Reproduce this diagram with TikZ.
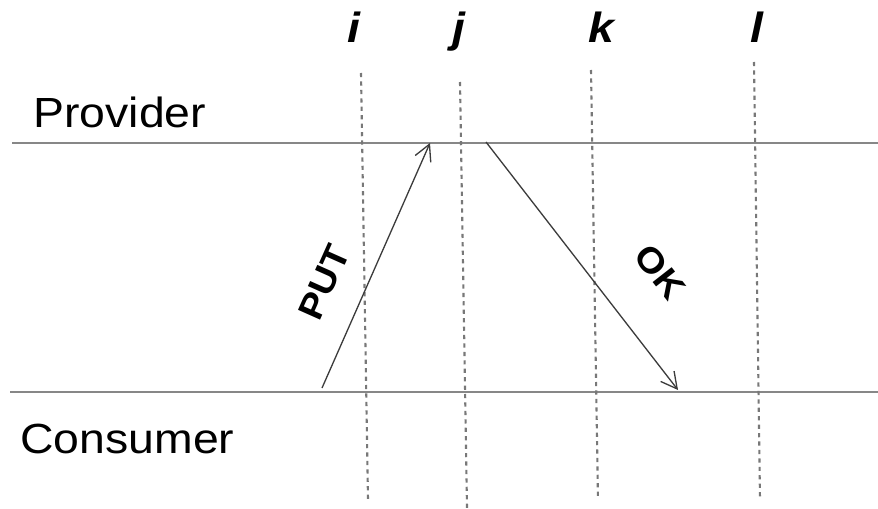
\documentclass[tikz,border=0pt]{standalone}
\usepackage{fontspec}
\setmainfont{Liberation Sans}
\newfontfamily\widefont[FakeStretch=1.1]{Liberation Sans}
\usetikzlibrary{arrows.meta,positioning}
\definecolor{rail}{RGB}{135,135,135}
\definecolor{tick}{RGB}{120,120,120}
\definecolor{msg}{RGB}{60,60,60}
\tikzset{
  party/.style={font=\widefont\fontsize{24}{28}\selectfont,inner sep=0pt,anchor=base west},
  cut/.style={font=\widefont\bfseries\itshape\fontsize{24}{28}\selectfont,inner sep=0pt,anchor=base},
  msglabel/.style={font=\widefont\bfseries\fontsize{20}{24}\selectfont,inner sep=0pt},
  lane/.style={draw=rail,line width=1.2pt},
  cutline/.style={draw=tick,line width=1.2pt,dash pattern=on 2.4pt off 2.4pt},
  flow/.style={-{Straight Barb[length=3.2mm,width=3.4mm]},msg,line width=0.75pt},
}
\begin{document}
\begin{tikzpicture}[x=0.02cm,y=0.02cm]
\useasboundingbox (0,0) rectangle (878,508);
% parties
\node[party] (prov) at (33,381) {Provider};
\node[party] (cons) at (20,55) {Consumer};
\coordinate (pl) at (12,365);  \coordinate (pr) at (878,365);
\coordinate (cl) at (10,116);  \coordinate (cr) at (878,116);
\draw[lane] (pl) -- (pr);
\draw[lane] (cl) -- (cr);
% cuts
\node[cut] (ci) at (354,465) {i};
\node[cut] (cj) at (459,465) {j};
\node[cut] (ck) at (601,465) {k};
\node[cut] (cl2) at (757,465) {l};
\coordinate (it) at (361,435); \coordinate (ib) at (368,8);
\coordinate (jt) at (460,426); \coordinate (jb) at (467,0);
\coordinate (kt) at (591,438); \coordinate (kb) at (598,8);
\coordinate (lt) at (754,446); \coordinate (lb) at (760,8);
\draw[cutline] (it) -- (ib);
\draw[cutline] (jt) -- (jb);
\draw[cutline] (kt) -- (kb);
\draw[cutline] (lt) -- (lb);
% messages
\coordinate (put0) at (322,120); \coordinate (put1) at (430,365);
\coordinate (ok0) at (486,366);  \coordinate (ok1) at (678,118);
\draw[flow] (put0) -- (put1);
\draw[flow] (ok0) -- (ok1);
\node[msglabel,rotate=66] (putl) at (324,226) {PUT};
\node[msglabel,rotate=-52] (okl) at (660,236) {OK};
\end{tikzpicture}
\end{document}
